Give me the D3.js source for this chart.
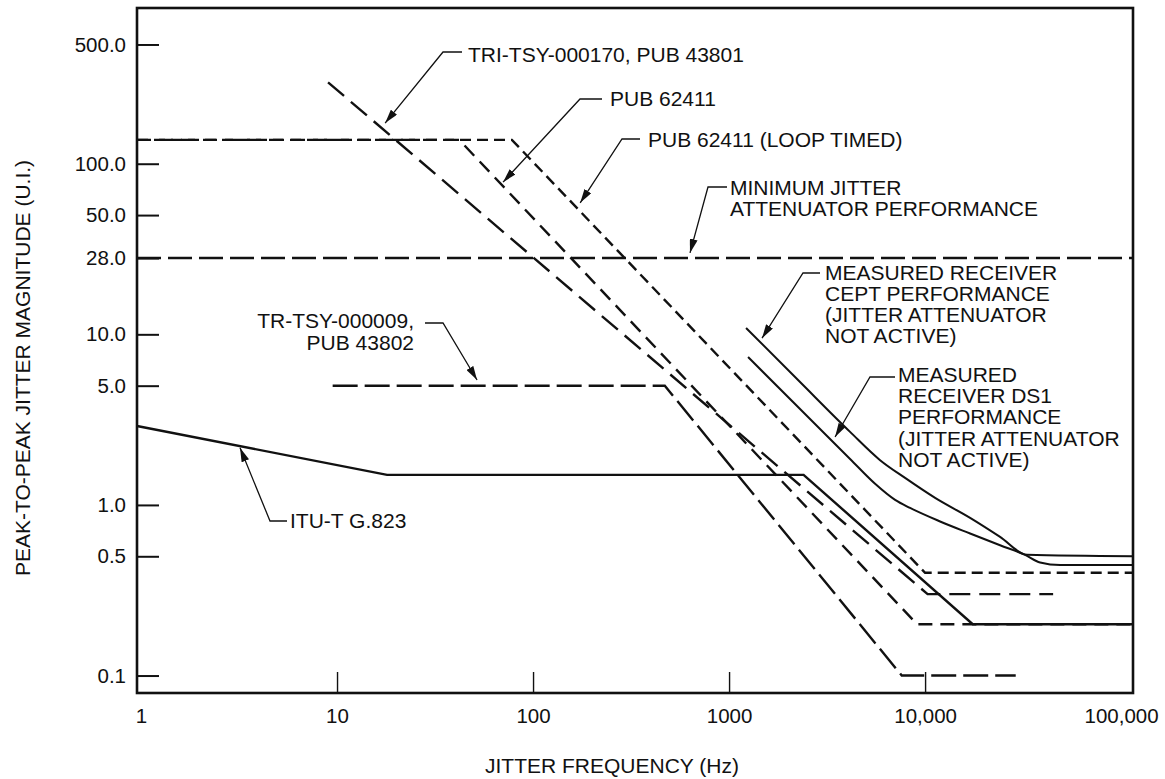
<!DOCTYPE html>
<html>
<head>
<meta charset="utf-8">
<script src="https://cdn.jsdelivr.net/npm/d3@7"></script>
<style>
  body { margin: 0; background: #fff; }
  svg { display: block; font-family: "Liberation Sans", Arial, Helvetica, sans-serif; }
</style>
</head>
<body>
<svg id="chart" width="1165" height="779"></svg>
<script>
// axis extents: jitter frequency (Hz) and jitter magnitude (U.I.)
const freqExtent = [0.954, 115000];
const uiExtent = [0.079, 818];

const xTickValues = [1, 10, 100, 1000, 10000, 100000];
const xTickLabels = ["1", "10", "100", "1000", "10,000", "100,000"];
const yTickValues = [500, 100, 50, 28, 10, 5, 1, 0.5, 0.1];
const yTickLabels = ["500.0", "100.0", "50.0", "28.0", "10.0", "5.0", "1.0", "0.5", "0.1"];

// series (Hz / U.I.)
const minAttFreq = [0.954, 115000];
const minAttUI = [28, 28];

const loopTimedFreq = [0.954, 78, 10000, 115000];
const loopTimedUI = [138, 138, 0.4, 0.4];

const pub62411Freq = [0.954, 42, 9100, 115000];
const pub62411UI = [138, 138, 0.2, 0.2];

const triTsyFreq = [9, 10300, 45000];
const triTsyUI = [300, 0.3, 0.3];

const trTsy9Freq = [9.5, 470, 7600, 29000];
const trTsy9UI = [5, 5, 0.1, 0.1];

const g823Freq = [0.954, 18, 2400, 17500, 115000];
const g823UI = [2.9, 1.5, 1.5, 0.2, 0.2];

const ceptFreq = [1221, 2302, 4143, 5894, 7907, 11250, 16970, 24130, 33150, 115000];
const ceptUI = [10.9, 5.25, 2.68, 1.83, 1.44, 1.10, 0.84, 0.65, 0.51, 0.5];

const ds1Freq = [1250, 2302, 4143, 5559, 7031, 8384, 11930, 16970, 24130, 32370, 38620, 48850, 115000];
const ds1UI = [7.36, 3.65, 1.86, 1.33, 1.07, 0.96, 0.80, 0.68, 0.58, 0.51, 0.46, 0.444, 0.444];

const svg = d3.select("#chart");
svg.append("rect").attr("width", 1165).attr("height", 779).attr("fill", "#fff");

const x = d3.scaleLog().domain(freqExtent).range([137, 1133]);
const y = d3.scaleLog().domain(uiExtent).range([693, 8]);

const straight = d3.line().x(d => x(d[0])).y(d => y(d[1]));
const smooth = d3.line().x(d => x(d[0])).y(d => y(d[1])).curve(d3.curveMonotoneX);

const series = [
  { freq: minAttFreq, ui: minAttUI, dash: "24,7", width: 2.6 },
  { freq: loopTimedFreq, ui: loopTimedUI, dash: "11,6", width: 2.4 },
  { freq: pub62411Freq, ui: pub62411UI, dash: "14,8", width: 2.4 },
  { freq: triTsyFreq, ui: triTsyUI, dash: "21,9", width: 2.4 },
  { freq: trTsy9Freq, ui: trTsy9UI, dash: "25,7", width: 2.4 },
  { freq: g823Freq, ui: g823UI, dash: null, width: 2.4 },
  { freq: ceptFreq, ui: ceptUI, dash: null, width: 2, curve: true },
  { freq: ds1Freq, ui: ds1UI, dash: null, width: 2, curve: true }
];

series.forEach(s => {
  const pts = s.freq.map((f, i) => [f, s.ui[i]]);
  svg.append("path")
    .attr("d", (s.curve ? smooth : straight)(pts))
    .attr("fill", "none")
    .attr("stroke", "#111")
    .attr("stroke-width", s.width)
    .attr("stroke-dasharray", s.dash);
});

// axes (ticks point inward)
const xAxis = svg.append("g")
  .attr("transform", "translate(0,693)")
  .call(d3.axisBottom(x).tickValues(xTickValues)
    .tickFormat((d, i) => xTickLabels[i]).tickSize(-21).tickPadding(15))
  .call(g => g.select(".domain").remove());
xAxis.selectAll(".tick line")
  .attr("stroke", "#111").attr("stroke-width", 1.4)
  .attr("opacity", d => (d === 1 || d === 100000) ? 0 : 1);
xAxis.selectAll(".tick text")
  .attr("font-size", 20.5).attr("font-family", null).attr("fill", "#111");

const yAxis = svg.append("g")
  .attr("transform", "translate(137,0)")
  .call(d3.axisLeft(y).tickValues(yTickValues)
    .tickFormat((d, i) => yTickLabels[i]).tickSize(-22).tickPadding(11))
  .call(g => g.select(".domain").remove());
yAxis.selectAll(".tick line").attr("stroke", "#111").attr("stroke-width", 2);
yAxis.selectAll(".tick text")
  .attr("font-size", 20.5).attr("font-family", null).attr("fill", "#111");

// frame
svg.append("rect")
  .attr("x", x.range()[0]).attr("y", y.range()[1])
  .attr("width", x.range()[1] - x.range()[0])
  .attr("height", y.range()[0] - y.range()[1])
  .attr("fill", "none").attr("stroke", "#111").attr("stroke-width", 2.6);

// axis titles
svg.append("text")
  .attr("x", 612).attr("y", 773)
  .attr("text-anchor", "middle").attr("font-size", 21).attr("fill", "#111")
  .text("JITTER FREQUENCY (Hz)");

svg.append("text")
  .attr("transform", "translate(30,368) rotate(-90)")
  .attr("text-anchor", "middle").attr("font-size", 21).attr("fill", "#111")
  .text("PEAK-TO-PEAK JITTER MAGNITUDE (U.I.)");

// arrowhead
svg.append("defs").append("marker")
  .attr("id", "arrow")
  .attr("markerUnits", "userSpaceOnUse")
  .attr("markerWidth", 15).attr("markerHeight", 8)
  .attr("refX", 14).attr("refY", 4)
  .attr("orient", "auto")
  .append("path")
  .attr("d", "M0,0L14,4L0,8Z")
  .attr("fill", "#111");

// callouts: text lines, text position, leader stub, arrow tip (Hz, U.I.)
const notes = [
  { lines: ["TRI-TSY-000170, PUB 43801"], tx: 468, ty: [62], stub: [[462, 52], [443, 52]], tip: [17.6, 173] },
  { lines: ["PUB 62411"], tx: 610, ty: [106], stub: [[602, 99], [580, 99]], tip: [70.3, 78] },
  { lines: ["PUB 62411 (LOOP TIMED)"], tx: 648, ty: [147], stub: [[640, 139], [622, 139]], tip: [174, 59] },
  { lines: ["MINIMUM JITTER", "ATTENUATOR PERFORMANCE"], tx: 730, ty: [195, 216], stub: [[727, 187], [708, 187]], tip: [632, 30] },
  { lines: ["TR-TSY-000009,", "PUB 43802"], tx: 414, ty: [328, 350], anchor: "end", stub: [[425, 323], [443, 323]], tip: [51.8, 5.4] },
  { lines: ["ITU-T G.823"], tx: 290, ty: [528], stub: [[287, 521], [270, 521]], tip: [3.2, 2.16] },
  { lines: ["MEASURED RECEIVER", "CEPT PERFORMANCE", "(JITTER ATTENUATOR", "NOT ACTIVE)"], tx: 825, ty: [280, 301, 322, 343], stub: [[820, 273], [803, 273]], tip: [1473, 9.5] },
  { lines: ["MEASURED", "RECEIVER DS1", "PERFORMANCE", "(JITTER ATTENUATOR", "NOT ACTIVE)"], tx: 898, ty: [382, 403, 424, 446, 467], stub: [[895, 377], [870, 377]], tip: [3474, 2.5] }
];

notes.forEach(n => {
  const t = svg.append("text")
    .attr("font-size", 21).attr("fill", "#111")
    .attr("text-anchor", n.anchor || "start");
  n.lines.forEach((ln, i) => {
    t.append("tspan").attr("x", n.tx).attr("y", n.ty[i]).text(ln);
  });
  const pts = n.stub.concat([[x(n.tip[0]), y(n.tip[1])]]);
  svg.append("path")
    .attr("d", d3.line()(pts))
    .attr("fill", "none")
    .attr("stroke", "#111")
    .attr("stroke-width", 1.3)
    .attr("marker-end", "url(#arrow)");
});

// figure number, cut off at the page edge as in the original scan
svg.append("text")
  .attr("x", 1152).attr("y", 793)
  .attr("font-size", 21).attr("fill", "#111")
  .text("5");
</script>
</body>
</html>
